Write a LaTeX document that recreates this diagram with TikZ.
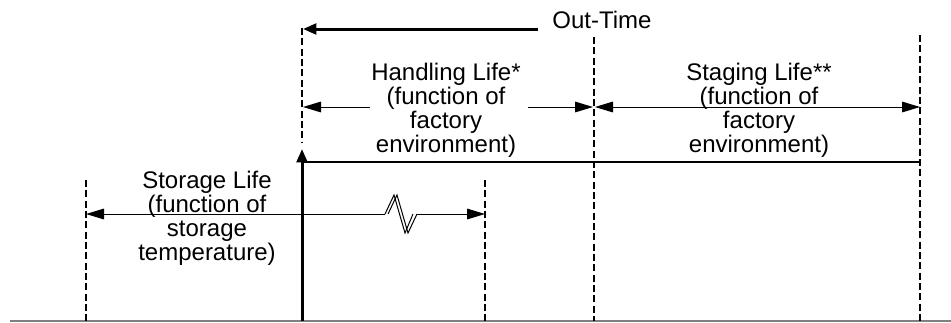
\documentclass[tikz,border=0pt]{standalone}
\usepackage{fontspec}
\setmainfont{Liberation Sans}
\usetikzlibrary{arrows.meta}
\begin{document}
\begin{tikzpicture}[x=0.75pt,y=-0.75pt,
  dashline/.style={line width=1.8pt,dash pattern=on 5.25pt off 2.5pt},
  thinarrow/.style={line width=0.75pt,-{Triangle[length=13.5pt,width=8pt]}},
  thickarrow/.style={line width=2.25pt,-{Triangle[length=10pt,width=8pt]}},
  lbl/.style={font=\fontsize{18pt}{18pt}\selectfont,align=center,inner sep=0pt,anchor=base}]
\useasboundingbox (0,0) rectangle (951,322);
% coordinates
\coordinate (d1t) at (86,180);  \coordinate (d1b) at (86,321);
\coordinate (d2t) at (302,28);  \coordinate (d2b) at (302,142);
\coordinate (d3t) at (485,180); \coordinate (d3b) at (485,321);
\coordinate (d4t) at (594,37);  \coordinate (d4b) at (594,321);
\coordinate (d5t) at (920,35);  \coordinate (d5b) at (920,321);
% baseline
\coordinate (bl) at (10,321); \coordinate (br) at (951,321);
\draw[line width=0.9pt,gray] (bl) -- (br);
% dashed lines
\draw[dashline] (d1t) -- (d1b);
\draw[dashline] (d2t) -- (d2b);
\draw[dashline] (d3t) -- (d3b);
\draw[dashline] (d4t) -- (d4b);
\draw[dashline] (d5t) -- (d5b);
% out-time arrow
\coordinate (ot1) at (538,29); \coordinate (ot2) at (303,29);
\draw[thickarrow] (ot1) -- (ot2);
\node[lbl] (outtime) at (602,28) {Out-Time};
% handling life
\coordinate (h1) at (370,107); \coordinate (h1e) at (303,107);
\coordinate (h2) at (528,107); \coordinate (h2e) at (593,107);
\draw[thinarrow] (h1) -- (h1e);
\draw[thinarrow] (h2) -- (h2e);
\node[lbl] (handling) at (446,152) {Handling Life*\\(function of\\factory\\environment)};
% staging life
\coordinate (s1) at (595,107); \coordinate (s2) at (920,107);
\draw[line width=0.75pt,{Triangle[length=13.5pt,width=8pt]}-{Triangle[length=13.5pt,width=8pt]}] (s1) -- (s2);
\node[lbl] (staging) at (759,152) {Staging Life**\\(function of\\factory\\environment)};
% horizontal line
\coordinate (hl1) at (304,162); \coordinate (hl2) at (920,162);
\draw[line width=1.5pt] (hl1) -- (hl2);
% thick vertical arrow
\coordinate (va1) at (302,321); \coordinate (va2) at (302,149);
\draw[thickarrow] (va1) -- (va2);
% storage life
\coordinate (st1) at (385,214); \coordinate (st1e) at (86,214);
\coordinate (st2) at (417,214); \coordinate (st2e) at (485,214);
\draw[thinarrow] (st1) -- (st1e);
\draw[thinarrow] (st2) -- (st2e);
\draw[line width=0.75pt] (385,214) -- (394,195) -- (405,233) -- (413,214);
\draw[line width=0.75pt] (388,214) -- (397,195) -- (408,233) -- (417,214);
\node[lbl] (storage) at (207,260) {Storage Life\\(function of\\storage\\temperature)};
\end{tikzpicture}
\end{document}
